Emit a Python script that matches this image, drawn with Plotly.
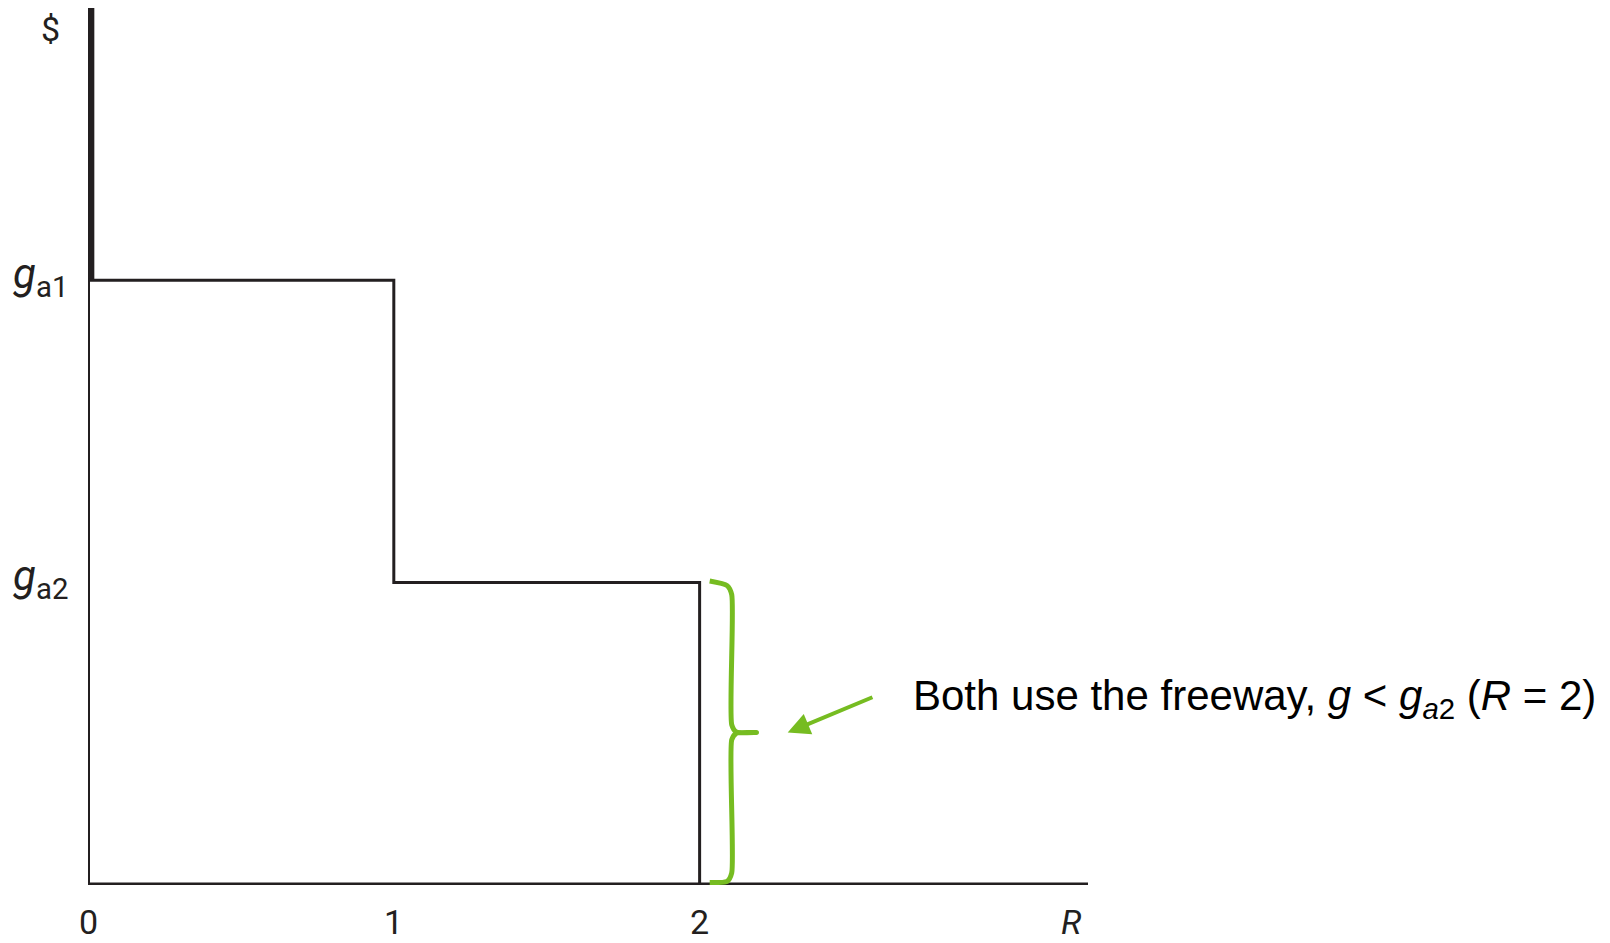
import plotly.graph_objects as go

# step curve (R on x, $ on y)
step_x = [0, 1, 1, 2, 2]
step_y = [2, 2, 1, 1, 0]

# axis extents
x_max = 3.27
y_max = 2.9

# tick labels
x_ticks = [0, 1, 2]
x_tick_text = ["0", "1", "2"]
y_ticks = [2, 1]
y_tick_text = ["<i>g</i><sub>a1</sub>", "<i>g</i><sub>a2</sub>"]

# green brace next to R = 2, and arrow pointing at it
brace_x = [2.033, 2.09, 2.105, 2.105, 2.12, 2.186, 2.12, 2.105, 2.105, 2.09, 2.033]
brace_y = [1.005, 0.99, 0.96, 0.53, 0.506, 0.504, 0.502, 0.48, 0.04, 0.012, 0.008]
arrow_tip = (2.288, 0.504)
arrow_tail = (2.57, 0.623)

note = "Both use the freeway, <i>g</i> &lt; <i>g</i><sub><i>a</i>2</sub> (<i>R</i> = 2)"

green = "#76bc21"
ink = "#231f20"

fig = go.Figure()

# thin left edge of the box below ga1
fig.add_trace(go.Scatter(x=[0, 0], y=[0, 2], mode="lines",
                         line=dict(color=ink, width=4), showlegend=False))
# thick y axis above ga1
fig.add_trace(go.Scatter(x=[0.006, 0.006], y=[2, y_max], mode="lines",
                         line=dict(color=ink, width=9), showlegend=False))
# x axis
fig.add_trace(go.Scatter(x=[0, x_max], y=[0, 0], mode="lines",
                         line=dict(color=ink, width=5), showlegend=False))
# the step
fig.add_trace(go.Scatter(x=step_x, y=step_y, mode="lines",
                         line=dict(color=ink, width=3), showlegend=False))
# brace
fig.add_trace(go.Scatter(x=brace_x, y=brace_y, mode="lines",
                         line=dict(color=green, width=5, shape="spline", smoothing=0.6),
                         showlegend=False))

axis_font = dict(family="Roboto, Liberation Sans, sans-serif", size=34, color=ink)

for xv, txt in zip(x_ticks, x_tick_text):
    fig.add_annotation(x=xv, y=0, text=txt, showarrow=False, yshift=-37,
                       font=axis_font)
fig.add_annotation(x=3.216, y=0, text="<i>R</i>", showarrow=False, yshift=-37,
                   font=axis_font)
for yv, txt in zip(y_ticks, y_tick_text):
    fig.add_annotation(x=0, y=yv, text=txt, showarrow=False, xanchor="right",
                       xshift=-18, yshift=4, font=dict(axis_font, size=42))
fig.add_annotation(x=0, y=y_max, text="$", showarrow=False, xshift=-38, yshift=-21,
                   font=axis_font)

# arrow
fig.add_annotation(x=arrow_tip[0], y=arrow_tip[1], ax=arrow_tail[0], ay=arrow_tail[1],
                   axref="x", ayref="y", text="", showarrow=True,
                   arrowhead=2, arrowsize=1.1, arrowwidth=4, arrowcolor=green)

fig.add_annotation(x=2.69, y=0.617, text=note, showarrow=False, xanchor="left",
                   font=dict(family="Liberation Sans, Arial, sans-serif", size=42,
                             color="#000000"))

# page body has an 8px margin, so the figure is a little smaller than the window
fig.update_layout(
    width=1602, height=935,
    margin=dict(l=80, r=522, t=0, b=58),
    paper_bgcolor="white", plot_bgcolor="white",
    xaxis=dict(range=[0, x_max], visible=False, fixedrange=True),
    yaxis=dict(range=[0, y_max], visible=False, fixedrange=True),
)

fig.write_html("out.html")
